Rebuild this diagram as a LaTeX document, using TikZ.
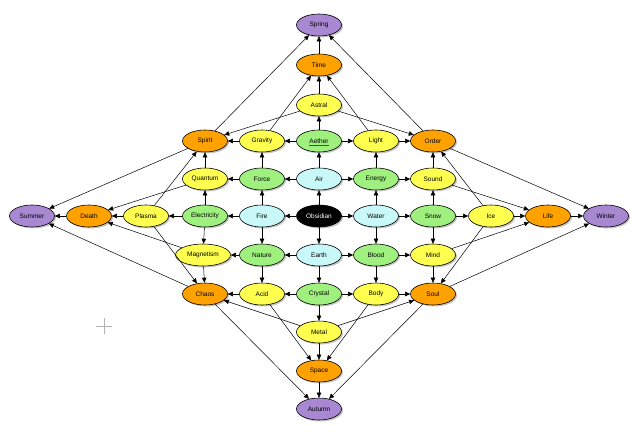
\documentclass[tikz,border=0pt]{standalone}
\usepackage{fontspec}
\setmainfont{Liberation Sans}
\usetikzlibrary{shapes.geometric,arrows.meta,shadows}
\definecolor{cpur}{HTML}{A888D0}
\definecolor{cora}{HTML}{FFA200}
\definecolor{cyel}{HTML}{FFFF50}
\definecolor{cgrn}{HTML}{A0F080}
\definecolor{ccya}{HTML}{C8F8F8}
\begin{document}
\begin{tikzpicture}[x=1pt,y=-1pt,
 el/.style={ellipse,draw=black,line width=0.6pt,minimum width=45pt,minimum height=22pt,inner sep=0pt,
  font=\fontsize{6.5}{7}\selectfont,drop shadow={shadow xshift=1.5pt,shadow yshift=-1.5pt,fill=black!45}},
 pu/.style={el,fill=cpur},or/.style={el,fill=cora},ye/.style={el,fill=cyel},
 gr/.style={el,fill=cgrn},cy/.style={el,fill=ccya},
 ar/.style={-{Triangle[length=5pt,width=4.5pt]},line width=0.5pt}]
\useasboundingbox (0,0) rectangle (640,433);
\node[pu] (spring) at (319,25) {Spring};
\node[or] (time) at (319,65) {Time};
\node[ye] (astral) at (319,105) {Astral};
\node[or] (spirit) at (205,141) {Spirit};
\node[ye] (gravity) at (262,141) {Gravity};
\node[gr] (aether) at (319,141) {Aether};
\node[ye] (light) at (376,141) {Light};
\node[or] (order) at (433,141) {Order};
\node[ye] (quantum) at (205,179) {Quantum};
\node[gr] (force) at (262,179) {Force};
\node[cy] (air) at (319,179) {Air};
\node[gr] (energy) at (376,179) {Energy};
\node[ye] (sound) at (433,179) {Sound};
\node[pu] (summer) at (32,216) {Summer};
\node[or] (death) at (89,216) {Death};
\node[ye] (plasma) at (146,216) {Plasma};
\node[gr] (elec) at (205,216) {Electricity};
\node[cy] (fire) at (262,216) {Fire};
\node[el,fill=black,text=white] (obs) at (319,216) {Obsidian};
\node[cy] (water) at (376,216) {Water};
\node[gr] (snow) at (433,216) {Snow};
\node[ye] (ice) at (491,216) {Ice};
\node[or] (life) at (548,216) {Life};
\node[pu] (winter) at (606,216) {Winter};
\node[ye,minimum width=55pt] (magn) at (203,255) {Magnetism};
\node[gr] (nature) at (262,255) {Nature};
\node[cy] (earth) at (319,255) {Earth};
\node[gr] (blood) at (376,255) {Blood};
\node[ye] (mind) at (433,255) {Mind};
\node[or] (chaos) at (205,294) {Chaos};
\node[ye] (acid) at (262,294) {Acid};
\node[gr] (crystal) at (319,294) {Crystal};
\node[ye] (body) at (376,294) {Body};
\node[or] (soul) at (433,294) {Soul};
\node[ye] (metal) at (319,332) {Metal};
\node[or] (space) at (319,371) {Space};
\node[pu] (autumn) at (319,409) {Autumn};
\draw[red,line width=0.4pt] (309,145) -- (329,145);
\draw[black!30,line width=0.6pt] (104,318) -- (104,334) (96,326) -- (112,326);
\foreach \a/\b in {time/spring,spirit/spring,order/spring,astral/time,gravity/time,light/time,
 astral/spirit,astral/order,aether/astral,aether/gravity,gravity/spirit,aether/light,light/order,
 air/aether,air/force,force/quantum,air/energy,energy/sound,quantum/spirit,force/gravity,energy/light,
 sound/order,obs/air,fire/force,water/energy,snow/sound,elec/quantum,
 obs/fire,fire/elec,elec/plasma,plasma/death,death/summer,obs/water,water/snow,snow/ice,ice/life,life/winter,
 spirit/summer,quantum/death,plasma/spirit,plasma/chaos,magn/death,chaos/summer,elec/magn,magn/chaos,
 order/winter,sound/life,ice/order,ice/soul,mind/life,soul/winter,snow/mind,mind/soul,
 obs/earth,fire/nature,water/blood,earth/nature,nature/magn,earth/blood,blood/mind,nature/acid,earth/crystal,
 blood/body,crystal/acid,acid/chaos,crystal/body,body/soul,crystal/metal,metal/chaos,metal/soul,
 acid/space,metal/space,body/space,chaos/autumn,space/autumn,soul/autumn}
 \draw[ar] (\a) -- (\b);
\end{tikzpicture}
\end{document}
